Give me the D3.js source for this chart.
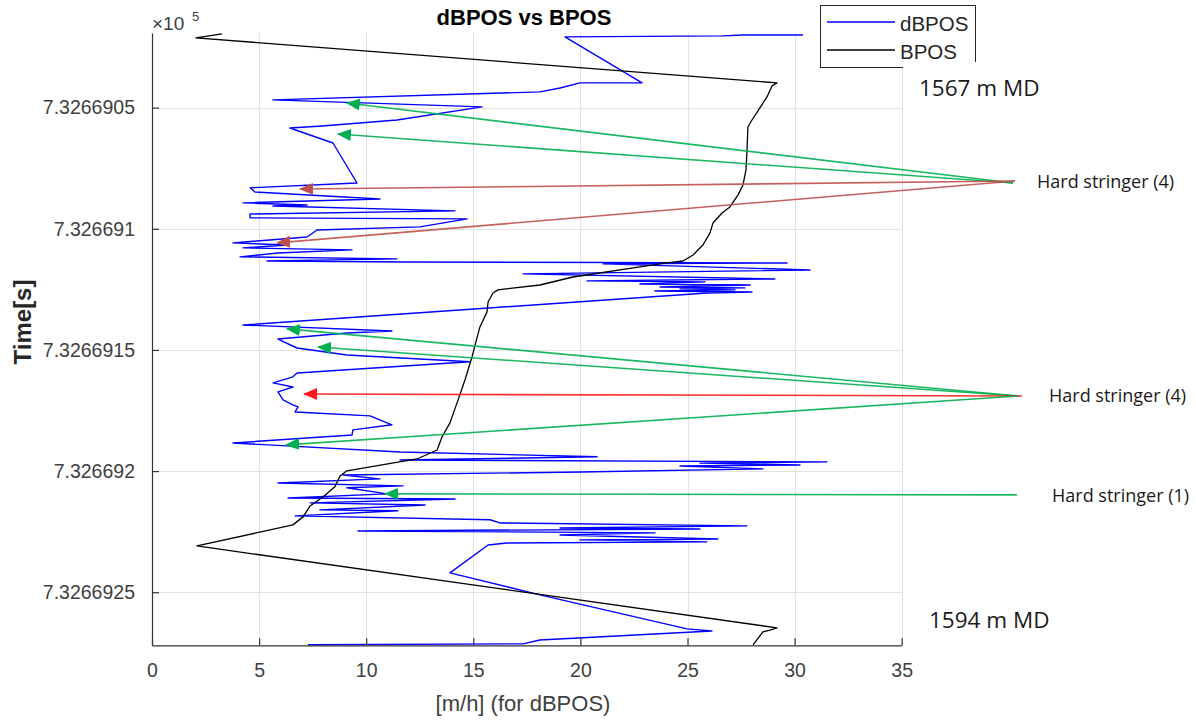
<!DOCTYPE html>
<html><head><meta charset="utf-8">
<script src="https://cdn.jsdelivr.net/npm/d3@7"></script>
<style>body{margin:0;background:#fff}svg{display:block}</style>
</head><body>
<svg id="c" width="1196" height="720"></svg>
<script>
// ---------- data ----------
const xTicks = [0, 5, 10, 15, 20, 25, 30, 35];
const yTicks = [732669.05, 732669.10, 732669.15, 732669.20, 732669.25];
const yTickLabels = ["7.3266905", "7.326691", "7.3266915", "7.326692", "7.3266925"];
const seriesNames = ["dBPOS", "BPOS"];

// dBPOS: [rate m/h, time s]
const dBPOS = [
[30.39,732669.0200],[27.59,732669.0200],[26.66,732669.0204],[19.28,732669.0208],
[22.88,732669.0398],[19.98,732669.0398],[19.05,732669.0419],[18.11,732669.0435],
[5.65,732669.0468],[15.41,732669.0497],[11.44,732669.0551],[7.94,732669.0576],
[6.44,732669.0584],[8.45,732669.0646],[9.57,732669.0811],[4.58,732669.0831],
[4.81,732669.0848],[10.64,732669.0877],[4.25,732669.0893],[7.24,732669.0902],
[5.65,732669.0906],[14.15,732669.0926],[4.58,732669.0939],[4.58,732669.0955],
[14.71,732669.0959],[12.51,732669.0992],[7.70,732669.1005],[7.24,732669.1034],
[3.78,732669.1058],[6.30,732669.1067],[4.25,732669.1079],[9.34,732669.1087],
[5.88,732669.1100],[4.11,732669.1116],[11.44,732669.1124],[5.37,732669.1133],
[11.90,732669.1137],[29.65,732669.1141],[21.06,732669.1145],[30.72,732669.1170],
[17.32,732669.1186],[29.08,732669.1207],[20.31,732669.1215],[25.82,732669.1219],
[22.78,732669.1228],[27.92,732669.1232],[23.72,732669.1240],[27.68,732669.1244],
[24.65,732669.1248],[27.22,732669.1252],[23.48,732669.1257],[28.01,732669.1261],
[25.91,732669.1265],[4.25,732669.1397],[11.20,732669.1422],[9.10,732669.1430],
[5.88,732669.1455],[6.77,732669.1492],[9.10,732669.1521],[14.85,732669.1549],
[6.77,732669.1595],[6.58,732669.1611],[5.65,732669.1636],[6.58,732669.1653],
[5.88,732669.1673],[6.12,732669.1706],[6.58,732669.1727],[6.82,732669.1735],
[6.68,732669.1756],[10.18,732669.1772],[11.20,732669.1809],[9.38,732669.1830],
[9.34,732669.1851],[3.78,732669.1884],[6.30,732669.1896],[11.58,732669.1921],
[20.78,732669.1941],[11.58,732669.1954],[31.51,732669.1962],[25.58,732669.1967],
[30.25,732669.1975],[24.65,732669.1979],[28.52,732669.1991],[19.98,732669.2004],
[8.92,732669.2016],[10.64,732669.2032],[5.88,732669.2049],[11.72,732669.2061],
[9.10,732669.2069],[10.97,732669.2094],[6.35,732669.2111],[14.15,732669.2115],
[7.38,732669.2131],[12.75,732669.2140],[7.84,732669.2160],[11.48,732669.2164],
[6.68,732669.2185],[15.78,732669.2201],[16.25,732669.2214],[27.78,732669.2226],
[19.05,732669.2235],[25.58,732669.2239],[9.62,732669.2247],[23.48,732669.2255],
[19.05,732669.2264],[26.42,732669.2280],[19.98,732669.2284],[25.91,732669.2292],
[16.57,732669.2297],[15.69,732669.2305],[13.91,732669.2420],[18.11,732669.2511],
[24.98,732669.2651],[26.14,732669.2660],[18.11,732669.2697],[17.32,732669.2713],
[7.28,732669.2717]
];

// BPOS: [value, time s]
const BPOS = [
[3.27,732669.0196],[2.05,732669.0212],[29.18,732669.0398],[28.95,732669.0410],
[28.71,732669.0456],[28.38,732669.0501],[28.01,732669.0551],[27.82,732669.0580],
[27.78,732669.0675],[27.73,732669.0757],[27.59,732669.0819],[27.36,732669.0860],
[26.98,732669.0910],[26.61,732669.0935],[26.19,732669.0976],[26.05,732669.1017],
[25.72,732669.1067],[25.26,732669.1108],[24.79,732669.1133],[24.04,732669.1141],
[22.78,732669.1157],[19.65,732669.1199],[18.11,732669.1232],[16.15,732669.1252],
[15.92,732669.1265],[15.69,732669.1302],[15.64,732669.1343],[15.31,732669.1405],
[15.17,732669.1450],[14.94,732669.1529],[14.61,732669.1624],[14.29,732669.1706],
[13.91,732669.1801],[13.54,732669.1859],[13.31,732669.1913],[12.37,732669.1950],
[9.10,732669.1999],[8.78,732669.2020],[8.54,732669.2065],[7.98,732669.2107],
[7.38,732669.2144],[7.05,732669.2189],[6.58,732669.2222],[2.10,732669.2309],
[29.18,732669.2647],[28.85,732669.2656],[28.52,732669.2664],[28.06,732669.2717]
];

// stringer annotations: from label point to marked sample [x, time]
const stringerArrows = [
{ from:[40.20,732669.0811], to:[9.10,732669.0481], kind:"soft" },
{ from:[40.20,732669.0811], to:[8.68,732669.0609], kind:"soft" },
{ from:[40.29,732669.0803], to:[6.91,732669.0836], kind:"hard" },
{ from:[40.29,732669.0803], to:[5.84,732669.1058], kind:"hard" },
{ from:[40.43,732669.1690], to:[6.30,732669.1413], kind:"soft" },
{ from:[40.43,732669.1690], to:[7.75,732669.1488], kind:"soft" },
{ from:[40.62,732669.1690], to:[7.10,732669.1682], kind:"hardest" },
{ from:[40.43,732669.1690], to:[6.26,732669.1892], kind:"soft" },
{ from:[40.38,732669.2098], to:[10.88,732669.2094], kind:"soft" }
];
const stringerLabels = ["Hard stringer (4)", "Hard stringer (4)", "Hard stringer (1)"];
const depthLabels = ["1567 m MD", "1594 m MD"];

// ---------- drawing ----------
const svg = d3.select("#c");
const L = 152, R = 901.7, T = 33, B = 645.3;
const x = d3.scaleLinear().domain([0, 35]).range([L, R]);
const y = d3.scaleLinear().domain([732669.0192, 732669.2719]).range([T, B]);
const kindColor = { soft: "#00b050", hard: "#c0504d", hardest: "#ff1a1a" };
const FONT = "'Liberation Sans', Arial, Helvetica, sans-serif";
const TXT = "'Open Sans', 'Noto Sans', sans-serif";

// grid
const grid = svg.append("g").attr("stroke", "#e2e2e2").attr("stroke-width", 1);
grid.selectAll(".gx").data(xTicks).join("line")
  .attr("x1", d => Math.round(x(d)) + 0.5).attr("x2", d => Math.round(x(d)) + 0.5)
  .attr("y1", T).attr("y2", B);
grid.selectAll(".gy").data(yTicks).join("line")
  .attr("y1", d => Math.round(y(d)) + 0.5).attr("y2", d => Math.round(y(d)) + 0.5)
  .attr("x1", L).attr("x2", R);

// series
const line = d3.line().x(d => x(d[0])).y(d => y(d[1]));
svg.append("path").datum(dBPOS).attr("d", line)
  .attr("fill", "none").attr("stroke", "#0000ff").attr("stroke-width", 1.4)
  .attr("stroke-linejoin", "round");
svg.append("path").datum(BPOS).attr("d", line)
  .attr("fill", "none").attr("stroke", "#000").attr("stroke-width", 1.3)
  .attr("stroke-linejoin", "round");

// axes
const xAxis = d3.axisBottom(x).tickValues(xTicks).tickSizeInner(-7).tickSizeOuter(0).tickPadding(18);
const yAxis = d3.axisLeft(y).tickValues(yTicks).tickFormat((d, i) => yTickLabels[i])
  .tickSizeInner(-7).tickSizeOuter(0).tickPadding(17);
const gx = svg.append("g").attr("transform", `translate(0,${B})`).call(xAxis);
const gy = svg.append("g").attr("transform", `translate(${L},0)`).call(yAxis);
[gx, gy].forEach(g => {
  g.select(".domain").attr("stroke", "#333").attr("stroke-width", 1.2);
  g.selectAll(".tick line").attr("stroke", "#333").attr("stroke-width", 1.2);
  g.selectAll("text").attr("font-family", FONT).attr("font-size", 19.5).attr("fill", "#404040");
});

// exponent
svg.append("text").attr("x", 152).attr("y", 30).attr("font-family", FONT)
  .attr("font-size", 19).attr("fill", "#404040").text("\u00d710");
svg.append("text").attr("x", 192).attr("y", 21).attr("font-family", FONT)
  .attr("font-size", 13).attr("fill", "#404040").text("5");

// title & labels
svg.append("text").attr("x", 524).attr("y", 25).attr("text-anchor", "middle")
  .attr("font-family", FONT).attr("font-weight", "bold").attr("font-size", 22).attr("fill", "#000")
  .text(seriesNames[0] + " vs " + seriesNames[1]);
svg.append("text").attr("x", 523).attr("y", 711).attr("text-anchor", "middle")
  .attr("font-family", FONT).attr("font-size", 22).attr("fill", "#404040")
  .text("[m/h] (for dBPOS)");
svg.append("text").attr("transform", "translate(31,322) rotate(-90)").attr("text-anchor", "middle")
  .attr("font-family", FONT).attr("font-weight", "bold").attr("font-size", 24).attr("fill", "#262626")
  .text("Time[s]");

// legend
const lg = svg.append("g");
lg.append("rect").attr("x", 820.5).attr("y", 5.5).attr("width", 155).attr("height", 62)
  .attr("fill", "#fff").attr("stroke", "#262626").attr("stroke-width", 1);
[["#0000ff", 22, 31], ["#000", 50, 59]].forEach((s, i) => {
  lg.append("line").attr("x1", 827).attr("x2", 895).attr("y1", s[1]).attr("y2", s[1])
    .attr("stroke", s[0]).attr("stroke-width", 1.3);
  lg.append("text").attr("x", 900).attr("y", s[2]).attr("font-family", FONT)
    .attr("font-size", 20.5).attr("fill", "#262626").text(seriesNames[i]);
});

// text boxes (white backgrounds)
svg.append("rect").attr("x", 903).attr("y", 62).attr("width", 160).attr("height", 46).attr("fill", "#fff");
svg.append("rect").attr("x", 903).attr("y", 594).attr("width", 160).attr("height", 43).attr("fill", "#fff");
svg.append("text").attr("x", 919).attr("y", 96).attr("font-family", TXT).attr("font-size", 22.5)
  .attr("fill", "#1a1a1a").text(depthLabels[0]);
svg.append("text").attr("x", 929).attr("y", 628).attr("font-family", TXT).attr("font-size", 22.5)
  .attr("fill", "#1a1a1a").text(depthLabels[1]);

// arrows
const defs = svg.append("defs");
Object.entries(kindColor).forEach(([k, c]) => {
  defs.append("marker").attr("id", "m-" + k).attr("viewBox", "0 -7 14 14")
    .attr("refX", 13).attr("refY", 0).attr("markerUnits", "userSpaceOnUse")
    .attr("markerWidth", 14).attr("markerHeight", 14).attr("orient", "auto")
    .append("path").attr("d", "M0,-6L14,0L0,6Z").attr("fill", c);
});
svg.append("g").selectAll("line").data(stringerArrows).join("line")
  .attr("x1", d => x(d.from[0])).attr("y1", d => y(d.from[1]))
  .attr("x2", d => x(d.to[0])).attr("y2", d => y(d.to[1]))
  .attr("stroke", d => kindColor[d.kind]).attr("stroke-width", 1.6)
  .attr("stroke-opacity", 0.9)
  .attr("marker-end", d => `url(#m-${d.kind})`);

const labelPos = [[1037, 188], [1049, 402], [1052, 502]];
svg.append("g").selectAll("text").data(stringerLabels).join("text")
  .attr("x", (d, i) => labelPos[i][0]).attr("y", (d, i) => labelPos[i][1])
  .attr("font-family", TXT).attr("font-size", 18).attr("fill", "#1a1a1a").text(d => d);
</script>
</body></html>
